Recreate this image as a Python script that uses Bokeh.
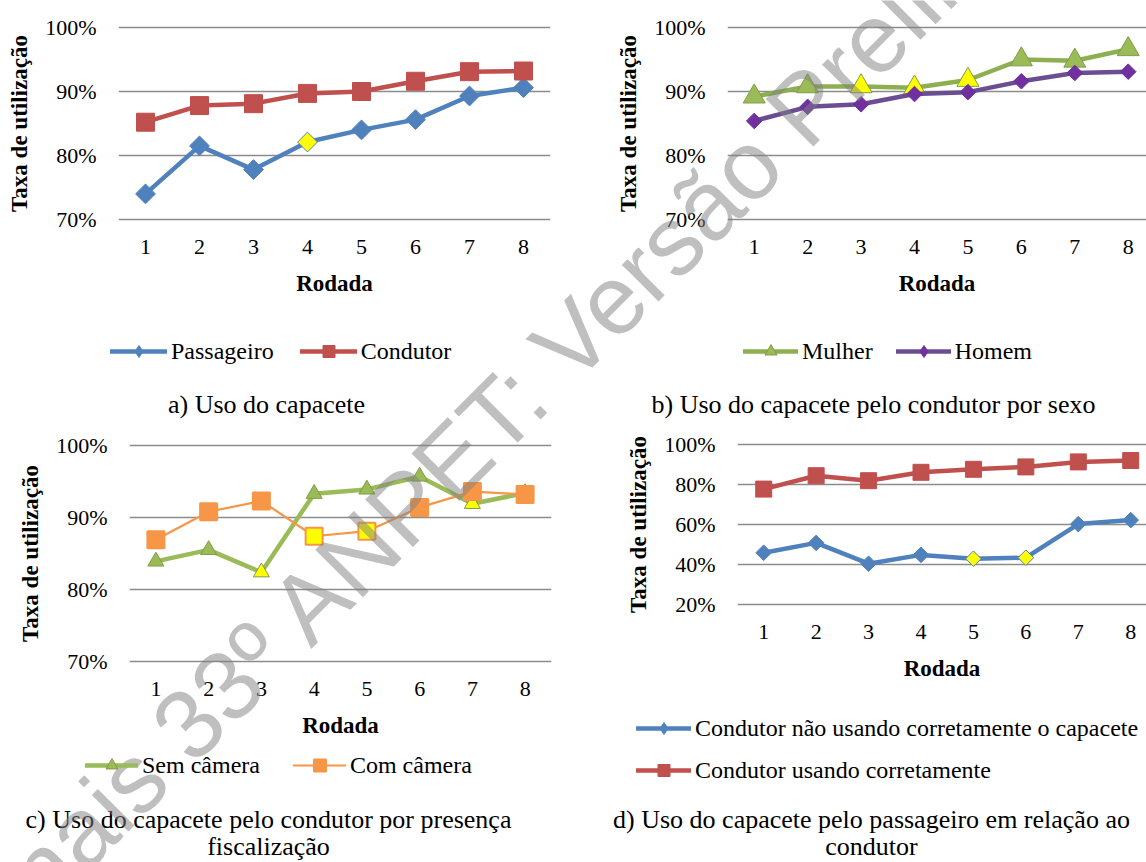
import math
from bokeh.plotting import figure
from bokeh.models import (ColumnDataSource, Range1d, FixedTicker, PrintfTickFormatter,
                          Legend, LegendItem, Label)
from bokeh.layouts import column, row
from bokeh.embed import file_html
from bokeh.resources import INLINE

# ---------------- data ----------------
rodadas = [1, 2, 3, 4, 5, 6, 7, 8]
x_labels = ["1", "2", "3", "4", "5", "6", "7", "8"]

passageiro = [74.0, 81.5, 77.8, 82.1, 84.0, 85.6, 89.3, 90.6]
condutor = [85.2, 87.8, 88.1, 89.7, 90.0, 91.6, 93.1, 93.2]

mulher = [89.2, 90.8, 90.8, 90.6, 91.8, 95.0, 94.8, 96.6]
homem = [85.4, 87.6, 88.0, 89.6, 89.9, 91.6, 92.9, 93.1]

sem_camera = [83.9, 85.5, 82.4, 93.3, 93.9, 95.7, 91.9, 93.4]
com_camera = [86.9, 90.8, 92.3, 87.4, 88.1, 91.4, 93.6, 93.2]

cond_nao_correto = [45.9, 50.8, 40.4, 44.8, 42.9, 43.4, 60.2, 62.2]
cond_correto = [77.7, 84.4, 81.9, 86.1, 87.6, 88.8, 91.3, 92.0]

# rounds whose markers are highlighted in yellow
dest_passageiro = [4]
dest_mulher = [3, 4, 5]
dest_sem_camera = [3, 7]
dest_com_camera = [4, 5]
dest_cond_nao_correto = [5, 6]

ticks_a = [70, 80, 90, 100]
ticks_d = [20, 40, 60, 80, 100]

legend_a = ["Passageiro", "Condutor"]
legend_b = ["Mulher", "Homem"]
legend_c = ["Sem câmera", "Com câmera"]
legend_d = ["Condutor não usando corretamente o capacete", "Condutor usando corretamente"]

caption_a = ["a) Uso do capacete"]
caption_b = ["b) Uso do capacete pelo condutor por sexo"]
caption_c = ["c) Uso do capacete pelo condutor por presença", "fiscalização"]
caption_d = ["d) Uso do capacete pelo passageiro em relação ao", "condutor"]

y_title = "Taxa de utilização"
x_title = "Rodada"
watermark = "Anais 33º ANPET: Versão Preliminar"

# ---------------- styling ----------------
SERIF = "Liberation Serif"
BLUE = "#4F81BD"
RED = "#C0504D"
GREEN = "#9BBB59"
GREEN_LINE = "#8DAF50"
GREEN_EDGE = "#7E9D45"
PURPLE_LINE = "#6A4E91"
PURPLE = "#7030A0"
ORANGE = "#F79646"
YELLOW = "#FFFF00"

PAGE_W, PAGE_H = 1146, 862


def make_fig(geo, xend, yr, yticks):
    fx, fy, w, h, left, top, fw, fh = geo
    p = figure(width=w, height=h, x_range=Range1d(0.5, xend), y_range=Range1d(*yr),
               output_backend="svg", toolbar_location=None,
               min_border_left=left, min_border_top=top,
               min_border_right=w - left - fw, min_border_bottom=h - top - fh)
    p.frame_align = False
    p.outline_line_color = None
    p.background_fill_color = "white"
    p.border_fill_color = "white"
    p.xgrid.visible = False
    p.ygrid.ticker = FixedTicker(ticks=yticks)
    p.ygrid.grid_line_color = "#8C8C8C"
    p.ygrid.grid_line_width = 1.6

    ya = p.yaxis[0]
    ya.ticker = FixedTicker(ticks=yticks)
    ya.formatter = PrintfTickFormatter(format="%d%%")
    ya.axis_line_color = None
    ya.major_tick_line_color = None
    ya.minor_tick_line_color = None
    ya.major_tick_out = 0
    ya.major_tick_in = 0
    ya.major_label_standoff = 22
    ya.major_label_text_font = SERIF
    ya.major_label_text_font_size = "22px"
    ya.major_label_text_color = "black"
    ya.axis_label = y_title
    ya.axis_label_text_font = SERIF
    ya.axis_label_text_font_style = "bold"
    ya.axis_label_text_font_size = "23px"
    ya.axis_label_text_color = "black"
    ya.axis_label_standoff = 10

    xa = p.xaxis[0]
    xa.ticker = FixedTicker(ticks=rodadas)
    xa.major_label_overrides = {r: s for r, s in zip(rodadas, x_labels)}
    xa.axis_line_color = None
    xa.major_tick_line_color = None
    xa.minor_tick_line_color = None
    xa.major_tick_out = 0
    xa.major_tick_in = 0
    xa.major_label_standoff = 18
    xa.major_label_text_font = SERIF
    xa.major_label_text_font_size = "22px"
    xa.major_label_text_color = "black"
    xa.axis_label = x_title
    xa.axis_label_text_font = SERIF
    xa.axis_label_text_font_style = "bold"
    xa.axis_label_text_font_size = "23px"
    xa.axis_label_text_color = "black"
    xa.axis_label_standoff = 14
    return p


SERIES = {}


def series(p, name, y, color, line_color, lw, marker, size, edge, highlight, angle=0.0, edge_w=1.0):
    fills = [YELLOW if r in highlight else color for r in rodadas]
    src = ColumnDataSource(dict(x=rodadas, y=y, fill=fills))
    p.line("x", "y", source=src, line_color=line_color, line_width=lw,
           line_join="round", line_cap="round")
    p.scatter("x", "y", source=src, marker=marker, size=size, angle=angle,
              fill_color="fill", line_color=edge, line_width=edge_w)
    key_marker = "diamond" if angle else marker
    SERIES[name] = dict(y=y, color=color, line_color=line_color, lw=lw, marker=key_marker,
                        edge=edge, edge_w=edge_w)


# geometry: fig x, fig y (window), width, height, border left, border top, frame w, frame h
GA = (0, 0, 570, 415, 118, 25, 432, 196)
GB = (570, 0, 576, 415, 157, 25, 419, 196)
GC = (0, 415, 570, 447, 129, 28, 422, 220)
GD = (570, 415, 576, 447, 167, 27, 409, 164)

# ---- panel a ----
pa = make_fig(GA, 8.5, (69.6875, 100.3125), ticks_a)
series(pa, legend_a[0], passageiro, BLUE, BLUE, 4.5, "square", 14, BLUE, dest_passageiro, math.pi / 4)
series(pa, legend_a[1], condutor, RED, RED, 4.5, "square", 18, RED, [])

# ---- panel b ----
pb = make_fig(GB, 0.5 + 419 / 53.43, (69.6875, 100.3125), ticks_a)
series(pb, legend_b[0], mulher, GREEN, GREEN_LINE, 4.5, "triangle", 22, GREEN_EDGE, dest_mulher)
series(pb, legend_b[1], homem, PURPLE, PURPLE_LINE, 4.5, "square", 11, PURPLE, [], math.pi / 4)

# ---- panel c ----
pc = make_fig(GC, 8.5, (69.722, 100.278), ticks_a)
series(pc, legend_c[0], sem_camera, GREEN, GREEN, 4.5, "triangle", 16, GREEN_EDGE, dest_sem_camera)
series(pc, legend_c[1], com_camera, ORANGE, ORANGE, 2.2, "square", 17, ORANGE, dest_com_camera, 0.0, 2.0)

# ---- panel d ----
pd_ = make_fig(GD, 0.5 + 409 / 52.43, (19, 101), ticks_d)
series(pd_, legend_d[0], cond_nao_correto, BLUE, BLUE, 4.5, "square", 11, BLUE, dest_cond_nao_correto, math.pi / 4)
series(pd_, legend_d[1], cond_correto, RED, RED, 4.5, "square", 16, RED, [])

# ---- overlay page layer: legends, captions and watermark (page pixel coordinates) ----
ov = figure(width=PAGE_W, height=PAGE_H, x_range=Range1d(0, PAGE_W), y_range=Range1d(0, PAGE_H),
            x_axis_type=None, y_axis_type=None, min_border=0, output_backend="svg",
            toolbar_location=None,
            styles={"position": "absolute", "top": "0px", "left": "0px",
                    "pointer-events": "none", "z-index": "5"})
ov.outline_line_color = None
ov.background_fill_color = None
ov.border_fill_color = None
ov.background_fill_alpha = 0
ov.border_fill_alpha = 0
# legend key renderers carry the series data on a range kept off the page
ov.extra_y_ranges = {"keys": Range1d(-2000, -1900)}

ITEM_H = 30


def legend(labels, x_left, y_bottom, orientation, spacing, glyph_w):
    items = []
    for lab in labels:
        s = SERIES[lab]
        src = ColumnDataSource(dict(x=rodadas, y=s["y"]))
        r1 = ov.line("x", "y", source=src, y_range_name="keys", line_color=s["line_color"],
                     line_width=s["lw"], line_cap="round")
        r2 = ov.scatter("x", "y", source=src, y_range_name="keys", marker=s["marker"], size=12,
                        fill_color=s["color"], line_color=s["edge"], line_width=s["edge_w"])
        items.append(LegendItem(label=lab, renderers=[r1, r2], index=0))
    leg = Legend(items=items, orientation=orientation, location=(x_left, PAGE_H - y_bottom),
                 padding=0, margin=0, spacing=spacing, border_line_color=None,
                 background_fill_alpha=0, glyph_width=glyph_w, glyph_height=ITEM_H,
                 label_height=ITEM_H, label_standoff=4, label_text_font=SERIF,
                 label_text_font_size="24px", label_text_color="black")
    ov.add_layout(leg, "center")


legend(legend_a, 110, 351 + ITEM_H / 2, "horizontal", 26, 57)
legend(legend_b, 743, 351 + ITEM_H / 2, "horizontal", 23, 55)
legend(legend_c, 85, 765 + ITEM_H / 2, "horizontal", 33, 53)
legend(legend_d, 636, 770 + ITEM_H / 2, "vertical", 12, 55)


def caption(lines, cx, ys):
    for t, yw in zip(lines, ys):
        ov.add_layout(Label(x=cx, y=PAGE_H - yw, text=t, text_align="center",
                            text_baseline="middle", text_font=SERIF,
                            text_font_size="26px", text_color="black"))


caption(caption_a, 266, [404])
caption(caption_b, 873, [404])
caption(caption_c, 268, [819, 846])
caption(caption_d, 871, [819, 846])

ov.add_layout(Label(x=-24, y=PAGE_H - 935, text=watermark, angle=math.pi / 4,
                    text_align="left", text_baseline="alphabetic",
                    text_font="Liberation Sans", text_font_size="98px",
                    text_color="#808080", text_alpha=0.5))

layout = column(row(pa, pb), row(pc, pd_), ov)

with open("out.html", "w") as f:
    f.write(file_html(layout, INLINE))
